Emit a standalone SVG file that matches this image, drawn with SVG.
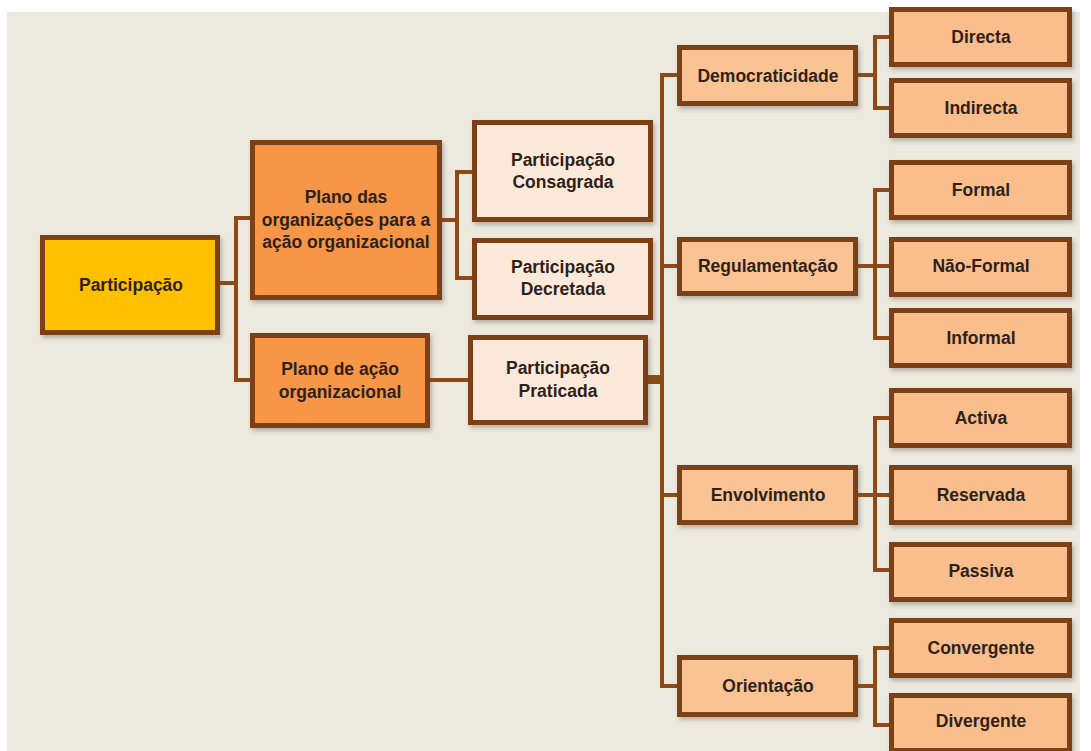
<svg xmlns="http://www.w3.org/2000/svg" width="1091" height="751" viewBox="0 0 1091 751">
<defs>
<filter id="sh" x="-10%" y="-10%" width="125%" height="135%">
<feDropShadow dx="2" dy="3" stdDeviation="2" flood-color="#5a4a3a" flood-opacity="0.35"/>
</filter>
<style>
.box{stroke:#7B3F12;stroke-width:5;filter:url(#sh)}
.gold{fill:#FFC000}
.dark{fill:#F79646}
.pale{fill:#FDE9DA}
.mid{fill:#FAC394}
.leaf{fill:#F9BE8C}
.t{font-family:"Liberation Sans",Arial,sans-serif;font-weight:bold;font-size:17.5px;fill:#2E2218;text-anchor:middle;dominant-baseline:central}
.c{fill:none;stroke:#8E4A16;stroke-width:4}
</style>
</defs>
<rect x="0" y="0" width="1091" height="751" fill="#FFFFFF"/>
<rect x="7" y="12" width="1073" height="739" fill="#ECE9DF"/>

<g id="connectors">
<path class="c" d="M220 283 H236 M236 218 V380 M234 218 H252 M234 380 H252"/>
<path class="c" d="M442 220 H457 M457 172 V279 M455 172 H474 M455 278 H474"/>
<path class="c" d="M430 380 H470"/>
<path class="c" d="M662 73 V688 M660 75 H679 M660 266 H679 M660 495 H679 M660 686 H679"/>
<path d="M648 375 H664 V384 H648 Z" fill="#8E4A16"/>
<path class="c" d="M858 75 H875 M875 35 V110 M873 37 H891 M873 108 H891"/>
<path class="c" d="M858 266 H875 M875 188 V340 M873 190 H891 M873 266 H891 M873 338 H891"/>
<path class="c" d="M858 495 H875 M875 416 V572 M873 418 H891 M873 495 H891 M873 570 H891"/>
<path class="c" d="M858 686 H875 M875 646 V727 M873 648 H891 M873 725 H891"/>
</g>

<g id="n-participacao"><rect class="box gold" x="42.5" y="237.5" width="175" height="95"/><text class="t" x="131" y="285">Participação</text></g>
<g id="n-plano-org"><rect class="box dark" x="252.5" y="142.5" width="187" height="155"/><text class="t" x="346" y="197">Plano das</text><text class="t" x="346" y="220">organizações para a</text><text class="t" x="346" y="242">ação organizacional</text></g>
<g id="n-plano-acao"><rect class="box dark" x="252.5" y="335.5" width="175" height="90"/><text class="t" x="340" y="369">Plano de ação</text><text class="t" x="340" y="392">organizacional</text></g>

<g id="n-consagrada"><rect class="box pale" x="474.5" y="122.5" width="176" height="97"/><text class="t" x="563" y="160">Participação</text><text class="t" x="563" y="182">Consagrada</text></g>
<g id="n-decretada"><rect class="box pale" x="474.5" y="240.5" width="176" height="77"/><text class="t" x="563" y="267">Participação</text><text class="t" x="563" y="289">Decretada</text></g>
<g id="n-praticada"><rect class="box pale" x="470.5" y="337.5" width="175" height="85"/><text class="t" x="558" y="368">Participação</text><text class="t" x="558" y="391">Praticada</text></g>

<g id="n-democraticidade"><rect class="box mid" x="679.5" y="47.5" width="176" height="56"/><text class="t" x="768" y="76">Democraticidade</text></g>
<g id="n-regulamentacao"><rect class="box mid" x="679.5" y="239.5" width="176" height="54"/><text class="t" x="768" y="266">Regulamentação</text></g>
<g id="n-envolvimento"><rect class="box mid" x="679.5" y="467.5" width="176" height="55"/><text class="t" x="768" y="495">Envolvimento</text></g>
<g id="n-orientacao"><rect class="box mid" x="679.5" y="657.5" width="176" height="57"/><text class="t" x="768" y="686">Orientação</text></g>

<g id="n-directa"><rect class="box leaf" x="891.5" y="9.5" width="178" height="55"/><text class="t" x="981" y="37">Directa</text></g>
<g id="n-indirecta"><rect class="box leaf" x="891.5" y="80.5" width="178" height="55"/><text class="t" x="981" y="108">Indirecta</text></g>
<g id="n-formal"><rect class="box leaf" x="891.5" y="162.5" width="178" height="55"/><text class="t" x="981" y="190">Formal</text></g>
<g id="n-naoformal"><rect class="box leaf" x="891.5" y="239.5" width="178" height="55"/><text class="t" x="981" y="266">Não-Formal</text></g>
<g id="n-informal"><rect class="box leaf" x="891.5" y="310.5" width="178" height="55"/><text class="t" x="981" y="338">Informal</text></g>
<g id="n-activa"><rect class="box leaf" x="891.5" y="390.5" width="178" height="55"/><text class="t" x="981" y="418">Activa</text></g>
<g id="n-reservada"><rect class="box leaf" x="891.5" y="467.5" width="178" height="55"/><text class="t" x="981" y="495">Reservada</text></g>
<g id="n-passiva"><rect class="box leaf" x="891.5" y="544.5" width="178" height="55"/><text class="t" x="981" y="571">Passiva</text></g>
<g id="n-convergente"><rect class="box leaf" x="891.5" y="620.5" width="178" height="55"/><text class="t" x="981" y="648">Convergente</text></g>
<g id="n-divergente"><rect class="box leaf" x="891.5" y="695.5" width="178" height="55"/><text class="t" x="981" y="721">Divergente</text></g>
</svg>
